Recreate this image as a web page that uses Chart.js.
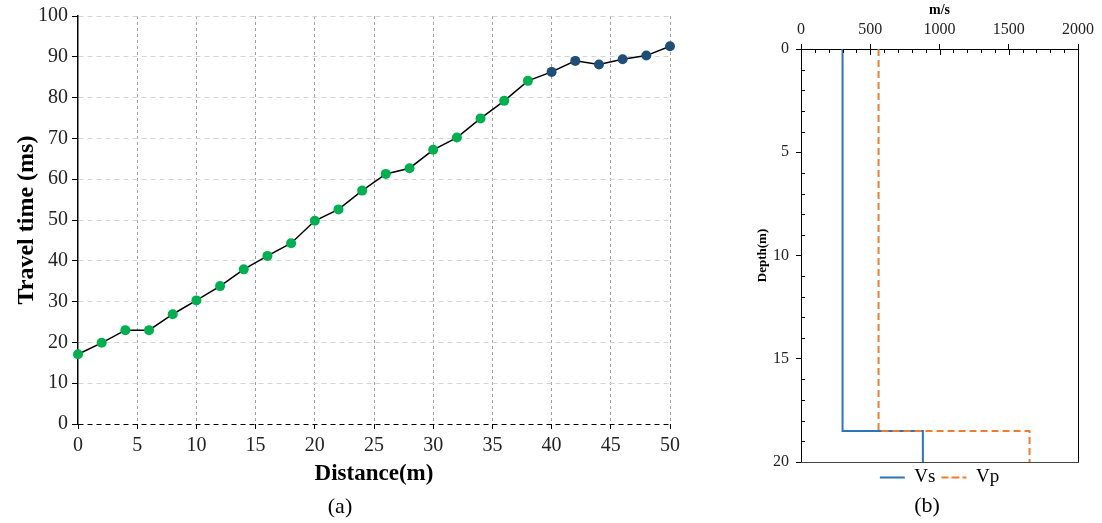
<!DOCTYPE html>
<html><head><meta charset="utf-8">
<script src="https://cdn.jsdelivr.net/npm/chart.js@4/dist/chart.umd.min.js"></script>
<style>
html,body{margin:0;padding:0;background:#fff;width:1102px;height:523px;overflow:hidden;}
#wrap{position:relative;width:1102px;height:523px;background:#fff;}
canvas{position:absolute;}
.lab{position:absolute;font-family:'Liberation Serif','Times New Roman',serif;font-size:22px;line-height:1;transform:translate(-50%,-50%);color:#000;white-space:nowrap;}
</style></head><body>
<div id="wrap">
<canvas id="c1" width="700" height="500" style="left:0;top:0"></canvas>
<canvas id="c2" width="362" height="497" style="left:740px;top:0"></canvas>
<div class="lab" style="left:340px;top:506px">(a)</div>
<div class="lab" style="left:927px;top:505px">(b)</div>
</div>
<script>
// ---- Panel (a): travel time vs distance ----
const distance = [0,2,4,6,8,10,12,14,16,18,20,22,24,26,28,30,32,34,36,38,40,42,44,46,48,50];
const travelTime = [17.1,19.9,23.0,23.0,26.9,30.3,33.8,37.9,41.2,44.3,49.8,52.6,57.2,61.3,62.7,67.2,70.2,74.9,79.2,84.1,86.3,89.0,88.1,89.4,90.3,92.6];
const pointGroup = ['A','A','A','A','A','A','A','A','A','A','A','A','A','A','A','A','A','A','A','A','B','B','B','B','B','B'];
const distanceTicks = [0,5,10,15,20,25,30,35,40,45,50];
const timeTicks = [0,10,20,30,40,50,60,70,80,90,100];

// ---- Panel (b): velocity profile ----
const vsVelocity = [300,300,880,880];
const vsDepth = [0,18.5,18.5,20];
const vpVelocity = [560,560,1650,1650];
const vpDepth = [0,18.5,18.5,20];
const velocityTicks = [0,500,1000,1500,2000];
const depthTicks = [0,5,10,15,20];
const velocityMinorStep = 100;
const depthMinorStep = 1;

const SERIF = "'Liberation Serif','Times New Roman',serif";
Chart.defaults.font.family = SERIF;
Chart.defaults.color = '#000';

const groupColor = {A:'#00B050', B:'#1F4E79'};
const plain = v => String(v);

new Chart(document.getElementById('c1'), {
  type: 'scatter',
  data: {
    datasets: [{
      data: distance.map((d,i) => ({x:d, y:travelTime[i]})),
      showLine: true,
      borderColor: '#000',
      borderWidth: 1.5,
      pointRadius: 5,
      pointHoverRadius: 5,
      pointBorderWidth: 0,
      pointBackgroundColor: pointGroup.map(g => groupColor[g]),
      pointBorderColor: pointGroup.map(g => groupColor[g]),
      clip: false
    }]
  },
  options: {
    responsive: false, animation: false, devicePixelRatio: 1,
    layout: {padding: {top: 16, right: 30, left: 0, bottom: 0}},
    plugins: {legend: {display: false}, tooltip: {enabled: false}},
    scales: {
      x: {
        type: 'linear', min: 0, max: 50,
        afterBuildTicks: s => { s.ticks = distanceTicks.map(v => ({value: v})); },
        afterFit: s => { s.height = 76; },
        grid: {color: c => c.tick && c.tick.value === 0 ? 'rgba(0,0,0,0)' : '#a0a0a0', lineWidth: 1, drawTicks: true, tickLength: 5, tickColor: '#000', tickWidth: 1},
        border: {display: false, dash: [3,3]},
        ticks: {font: {size: 20}, padding: 5, color: '#222', maxRotation: 0, callback: plain},
        title: {display: true, text: 'Distance(m)', font: {size: 23, weight: 'bold'}, padding: {top: 0, bottom: 12}}
      },
      y: {
        type: 'linear', min: 0, max: 100,
        afterBuildTicks: s => { s.ticks = timeTicks.map(v => ({value: v})); },
        afterFit: s => { s.width = 78; },
        grid: {color: c => c.tick && c.tick.value === 0 ? '#000' : '#d4d4d4', lineWidth: 1, drawTicks: true, tickLength: 6, tickColor: '#000', tickWidth: 1},
        border: {display: true, color: '#000', width: 1.5, dash: [5,4]},
        ticks: {font: {size: 20}, padding: 4, color: '#222', callback: plain},
        title: {display: true, text: 'Travel time (ms)', font: {size: 24, weight: 'bold'}, padding: {top: 12, bottom: 0}}
      }
    }
  }
});

const framePlugin = {
  id: 'frameMinor',
  afterDraw(chart) {
    const {ctx, chartArea: a, scales} = chart;
    const xs = scales.x, ys = scales.y;
    ctx.save();
    ctx.strokeStyle = '#000';
    ctx.lineWidth = 1;
    ctx.beginPath();
    ctx.moveTo(a.right + 0.5, a.top);
    ctx.lineTo(a.right + 0.5, a.bottom + 0.5);
    ctx.stroke();
    ctx.strokeStyle = '#444';
    ctx.beginPath();
    ctx.moveTo(a.left, a.bottom + 0.5);
    ctx.lineTo(a.right + 0.5, a.bottom + 0.5);
    ctx.stroke();
    ctx.strokeStyle = '#000';
    ctx.beginPath();
    for (let v = xs.min; v <= xs.max + 1e-6; v += velocityMinorStep) {
      const px = Math.round(xs.getPixelForValue(v)) + 0.5;
      const major = velocityTicks.includes(v);
      ctx.moveTo(px, a.top);
      ctx.lineTo(px, a.top + (major ? 6 : 4));
    }
    for (let v = ys.min + depthMinorStep; v < ys.max; v += depthMinorStep) {
      if (depthTicks.includes(v)) continue;
      const py = Math.round(ys.getPixelForValue(v)) + 0.5;
      ctx.moveTo(a.left, py);
      ctx.lineTo(a.left + 4, py);
    }
    ctx.stroke();
    ctx.restore();
  }
};

new Chart(document.getElementById('c2'), {
  type: 'scatter',
  data: {
    datasets: [
      {label: 'Vs', data: vsVelocity.map((v,i) => ({x:v, y:vsDepth[i]})), showLine: true,
       borderColor: '#2E75B6', backgroundColor: '#2E75B6', borderWidth: 2, pointRadius: 0, pointHoverRadius: 0, order: 1, clip: false},
      {label: 'Vp', data: vpVelocity.map((v,i) => ({x:v, y:vpDepth[i]})), showLine: true,
       borderColor: '#ED7D31', backgroundColor: '#ED7D31', borderWidth: 2, borderDash: [7,4], pointRadius: 0, pointHoverRadius: 0, order: 0, clip: false}
    ]
  },
  plugins: [framePlugin],
  options: {
    responsive: false, animation: false, devicePixelRatio: 1,
    layout: {padding: {top: 0, right: 24, left: 0, bottom: 0}},
    plugins: {
      tooltip: {enabled: false},
      legend: {display: true, position: 'bottom', fullSize: false,
        labels: {boxWidth: 25, boxHeight: 0, padding: 6, font: {size: 19}, color: '#000',
          sort: (a, b) => a.datasetIndex - b.datasetIndex}}
    },
    scales: {
      x: {
        type: 'linear', position: 'top', min: 0, max: 2000,
        afterBuildTicks: s => { s.ticks = velocityTicks.map(v => ({value: v})); },
        afterFit: s => { s.height = 49; },
        grid: {drawOnChartArea: false, drawTicks: true, tickLength: 5, tickColor: '#000', color: '#000'},
        border: {display: true, color: '#000', width: 1},
        ticks: {font: {size: 16}, padding: 5, color: '#222', maxRotation: 0, callback: plain},
        title: {display: true, text: 'm/s', font: {size: 14, weight: 'bold'}, padding: {top: 2, bottom: 0}}
      },
      y: {
        type: 'linear', reverse: true, min: 0, max: 20,
        afterBuildTicks: s => { s.ticks = depthTicks.map(v => ({value: v})); },
        afterFit: s => { s.width = 61; },
        grid: {drawOnChartArea: false, drawTicks: true, tickLength: 5, tickColor: '#000', color: '#000'},
        border: {display: true, color: '#000', width: 1},
        ticks: {font: {size: 16}, padding: 7, color: '#222', callback: plain},
        title: {display: true, text: 'Depth(m)', font: {size: 13, weight: 'bold'}, padding: {top: 15, bottom: 0}}
      }
    }
  }
});
</script>
</body></html>
